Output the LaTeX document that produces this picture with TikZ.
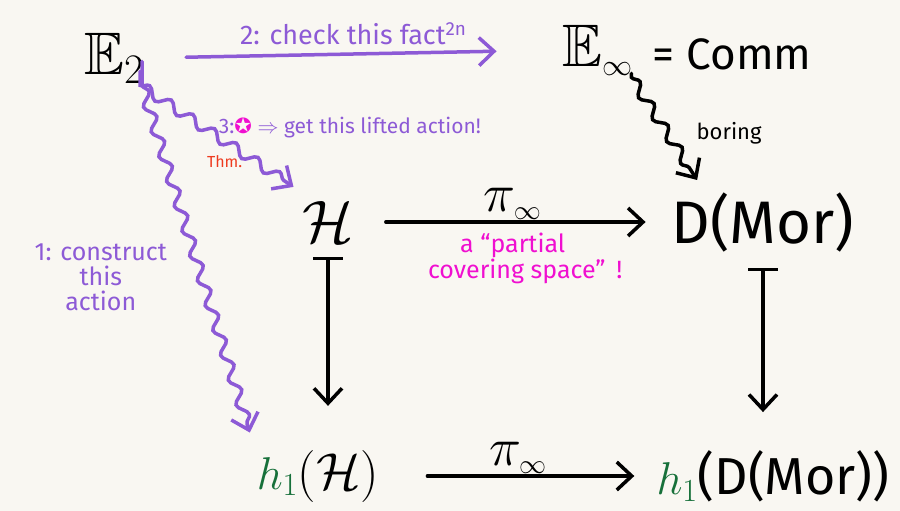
\documentclass[tikz,border=0pt]{standalone}
\usepackage{fix-cm}
\usepackage{amssymb}
\usepackage{fontspec}
\setmainfont{Fira Sans}
\newfontfamily\symfont{DejaVu Sans}
\DeclareFontFamily{U}{msb}{}
\DeclareFontShape{U}{msb}{m}{n}{<-> msbm10}{}
\usetikzlibrary{arrows.meta,decorations.pathmorphing,positioning}

\definecolor{paper}{HTML}{F9F7F2}
\definecolor{lilac}{HTML}{8D5AD6}
\definecolor{pinkish}{HTML}{F00FD0}
\definecolor{leaf}{HTML}{17703A}
\definecolor{thmred}{HTML}{EE3B1F}

\newcommand{\hone}{{\fontsize{46}{50}\selectfont$\textcolor{leaf}{h_{\scriptstyle 1}}$}}

\begin{document}
\begin{tikzpicture}
  [
  x=1pt, y=-1pt,
  bigobj/.style={inner sep=2pt, font=\fontsize{60}{66}\selectfont},
  lowobj/.style={inner sep=2pt, font=\fontsize{52}{58}\selectfont},
  catarrow/.style={draw, -{Straight Barb[length=15pt, width=28pt]}, line width=3.5pt, line cap=round, shorten <=30pt, shorten >=24pt},
  mapsarrow/.style={catarrow, {Bar[width=30pt]}-{Straight Barb[length=15pt, width=28pt]}},
  noteline/.style={draw=lilac, line width=3.5pt, line cap=round, -{Straight Barb[length=15pt, width=28pt]}},
  wavyarrow/.style={noteline, decorate, decoration={snake, amplitude=5pt, segment length=26pt, post length=14pt}},
  note/.style={text=lilac, font=\fontsize{24}{24}\selectfont, inner sep=1pt},
  pilabel/.style={font=\fontsize{54}{58}\selectfont, inner sep=1pt},
  ]
  \path[use as bounding box, fill=paper] (0,0) rectangle (900,511);

  % the square
  \node[bigobj] (e2) at (114,58) {$\mathbb{E}_2$};
  \node[bigobj] (einf) at (598,50) {$\mathbb{E}_{\scriptscriptstyle\infty}$};
  \node[font=\fontsize{44}{48}\selectfont, right=14pt of einf.east, anchor=west, yshift=-4pt] (comm) {= Comm};
  \node[bigobj] (H) at (328,222) {$\mathcal{H}$};
  \node[bigobj] (DM) at (763,222) {D(Mor)};
  \node[lowobj] (hH) at (318,476) {\hone$(\mathcal{H})$};
  \node[lowobj] (hD) at (773,476) {\hone(D(Mor))};

  \draw[catarrow] (H) -- node[pilabel, above=0pt] (pi1) {$\pi_{\scriptscriptstyle\infty}$}
    node[below=6pt, text=pinkish, align=center, font=\fontsize{25}{22}\selectfont] (cover) {a “partial\\\quad covering space” \,!} (DM);
  \draw[catarrow, shorten <=46pt, shorten >=20pt] (hH) -- node[pilabel, above=0pt] (pi2) {$\pi_{\scriptscriptstyle\infty}$} (hD);
  \draw[mapsarrow, shorten <=12pt, shorten >=42pt] (H.south) -- (H.south |- hH.north);
  \draw[mapsarrow, shorten <=14pt, shorten >=36pt] (DM.south) -- (DM.south |- hD.north);

  % the steps
  \draw[noteline, shorten <=40pt, shorten >=64pt] (e2.east) -- node[note, above=6pt, font=\fontsize{27}{28}\selectfont] (step2) {2: check this fact\textsuperscript{2n}} (einf.west);
  \draw[wavyarrow, shorten <=14pt, shorten >=8pt] ([xshift=-6pt]e2.south east) -- node[note, pos=.4, right=12pt, font=\fontsize{21}{22}\selectfont] (step3) {3:{\symfont\textcolor{pinkish}{✪}} $\Rightarrow$ get this lifted action!}
    node[pos=.72, left=8pt, text=thmred, font=\fontsize{16}{17}\selectfont] (thm) {Thm.} ([yshift=8pt]H.north west);
  \draw[wavyarrow, shorten <=24pt, shorten >=16pt] ([xshift=28pt]e2.south) -- node[note, pos=.53, left=32pt, align=center, font=\fontsize{25}{25}\selectfont] (step1) {1: construct\\this\\action} (hH.north west);
  \draw[wavyarrow, draw=black, shorten <=4pt, shorten >=12pt] ([xshift=-4pt]einf.south east) -- node[midway, right=24pt, font=\fontsize{22}{24}\selectfont] (bore) {boring} ([xshift=34pt]DM.north west);
\end{tikzpicture}
\end{document}
